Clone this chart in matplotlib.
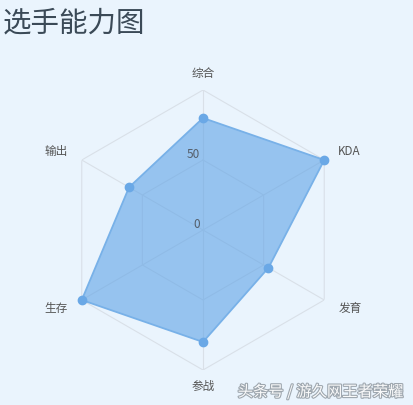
import numpy as np
import matplotlib
matplotlib.use("Agg")
import matplotlib.pyplot as plt
import matplotlib.patheffects as pe

plt.rcParams['font.family'] = ['Noto Sans CJK SC', 'DejaVu Sans']

title = "选手能力图"
categories = ["综合", "KDA", "发育", "参战", "生存", "输出"]
values = [80, 100, 54, 80, 100, 61]
rmax = 100
ring_levels = [50, 100]
tick_labels = ["0", "50"]
tick_values = [0, 50]

BG = "#eaf4fd"
GRID = "#d9e0e8"

fig = plt.figure(figsize=(4.13, 4.05), dpi=100, facecolor=BG)
W, H = 413, 405
cx, cy, R = 203, 230, 140
ax = fig.add_axes([(cx - R) / W, (H - cy - R) / H, 2 * R / W, 2 * R / H],
                  projection='polar')
ax.set_facecolor('none')
ax.set_theta_zero_location('N')
ax.set_theta_direction(-1)
ax.set_ylim(0, rmax)
ax.grid(False)
ax.spines['polar'].set_visible(False)
ax.set_xticks([])
ax.set_yticks([])

n = len(categories)
angles = np.linspace(0, 2 * np.pi, n, endpoint=False)
closed = np.concatenate([angles, angles[:1]])

# grid hexagons
for lv in ring_levels:
    ax.plot(closed, [lv] * (n + 1), color=GRID, lw=0.8, zorder=1)
# spokes
for a in angles:
    ax.plot([a, a], [0, rmax], color=GRID, lw=0.8, zorder=1)

vals = np.array(values + values[:1], dtype=float)
ax.fill(closed, vals, color="#5fa3e6", alpha=0.6, zorder=2, lw=0)
ax.plot(closed, vals, color="#78b1e8", lw=1.3, zorder=3)
ax.plot(angles, values, 'o', color="#6aa8e6", ms=6, zorder=4, clip_on=False)

# category labels
for a, c in zip(angles, categories):
    s = np.sin(a)
    ha = 'center' if abs(s) < 0.1 else ('left' if s > 0 else 'right')
    ax.text(a, 111.5, c, ha=ha, va='center', fontsize=8.4, color="#555555",
            clip_on=False)

# radial tick labels
for tv, tl in zip(tick_values, tick_labels):
    ax.annotate(tl, xy=(0, tv), xytext=(-2, 4), textcoords='offset points',
                ha='right', va='center', fontsize=8.5, color="#555f6b",
                zorder=5)

fig.text(3 / W, 1 - 24 / H, title, fontsize=20.5, color="#3b4a57",
         ha='left', va='center')

# watermark
fig.text(403 / W, 1 - 392 / H, "头条号 / 游久网王者荣耀", fontsize=11, color="white",
         ha='right', va='center', alpha=0.95,
         path_effects=[pe.withStroke(linewidth=1.6, foreground="#9aa3ab")])

fig.savefig("out.png", dpi=100, facecolor=BG)
